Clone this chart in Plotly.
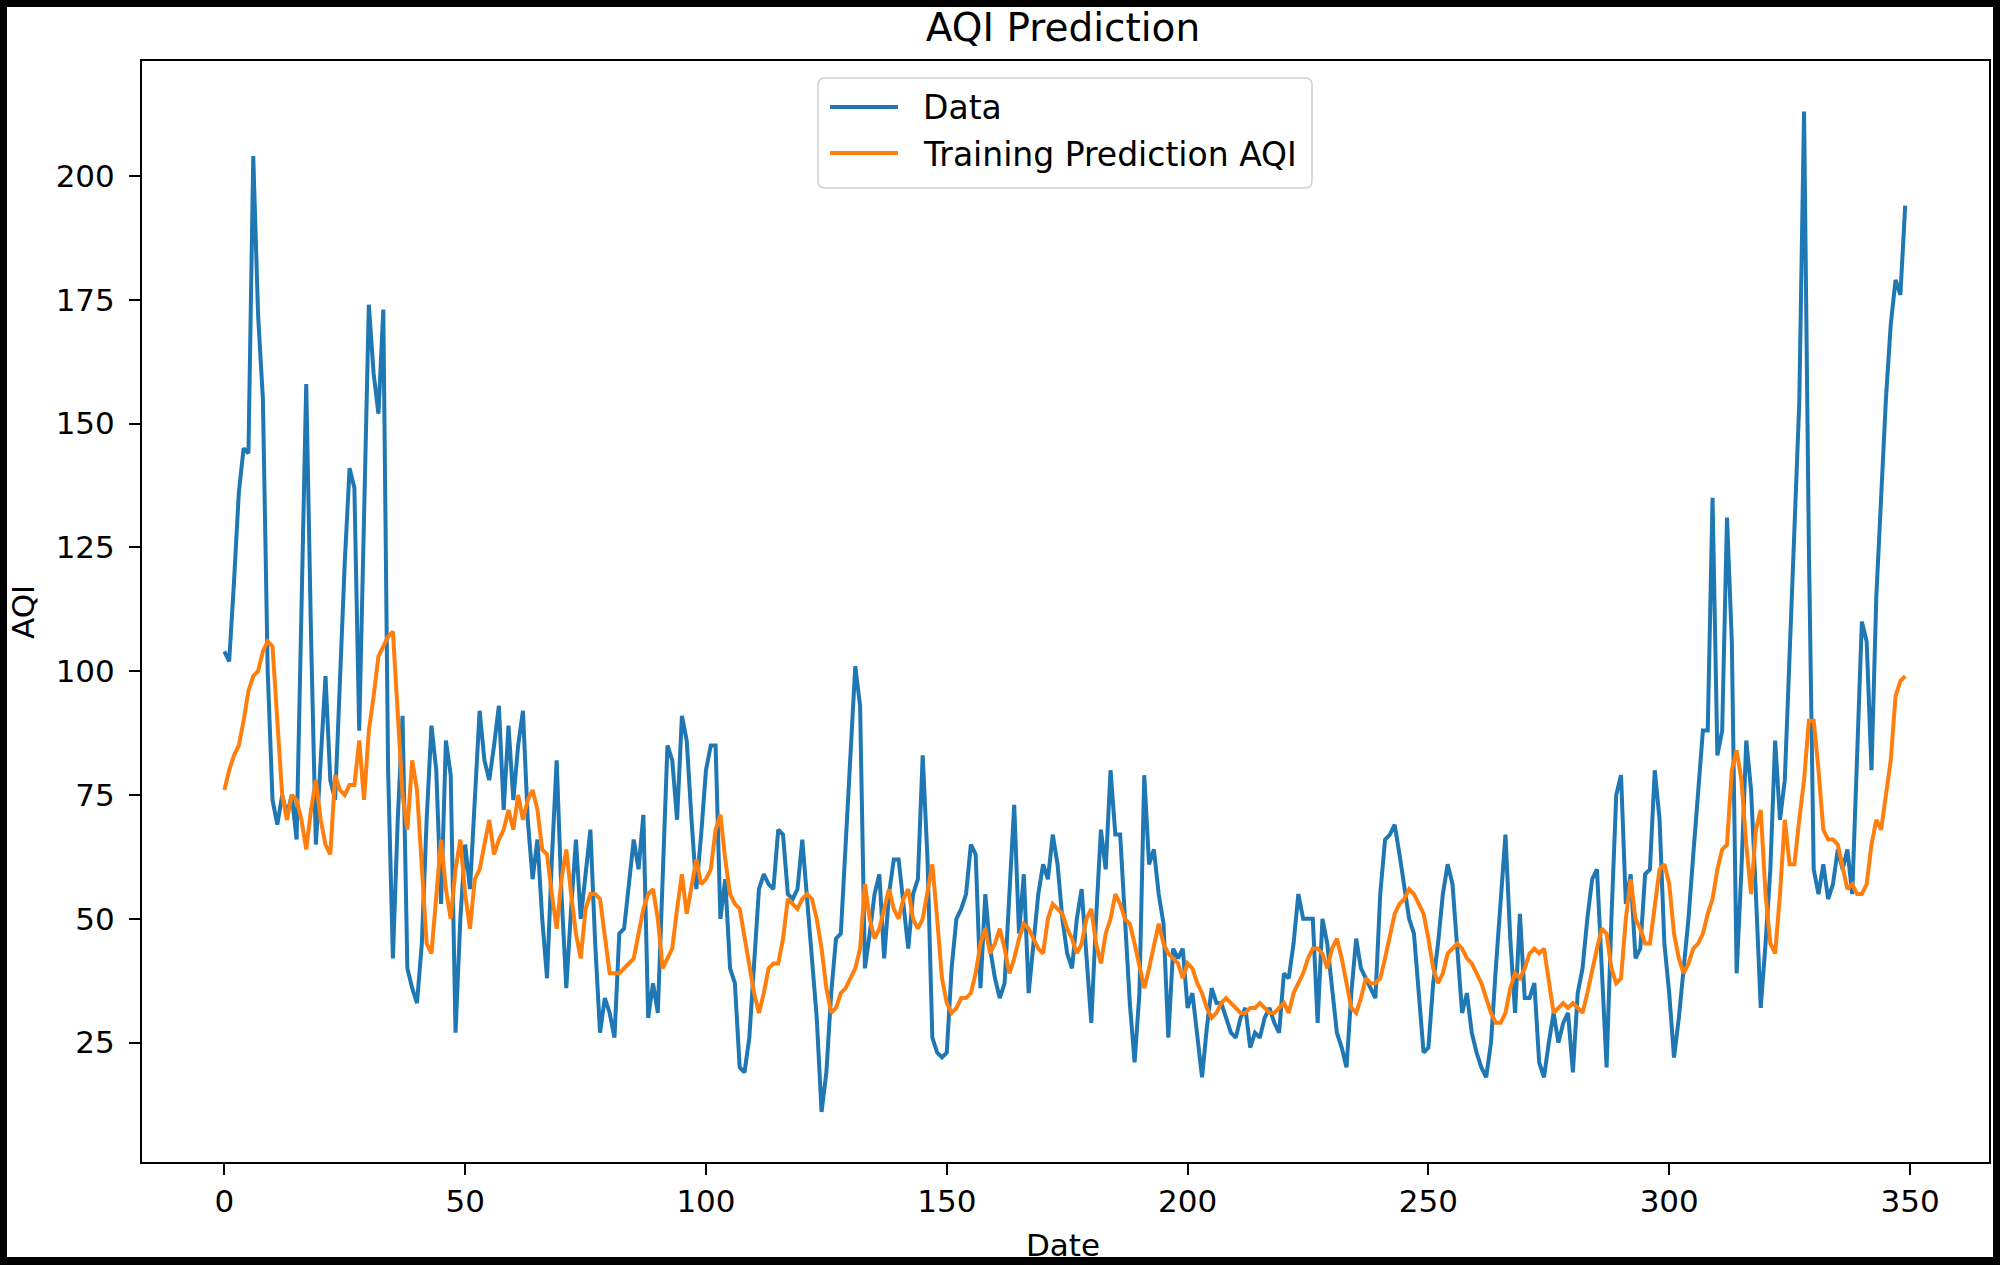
import plotly.graph_objects as go

# ---------------- data ----------------
dates = list(range(350))

data_aqi = [
    104, 102, 118, 136, 145, 144, 204, 172, 155, 100,
    74, 69, 75, 71, 75, 66, 112, 158, 107, 65,
    82, 99, 78, 74, 98, 122, 141, 137, 88, 131,
    174, 160, 152, 173, 80, 42, 70, 91, 40, 36,
    33, 45, 70, 89, 80, 53, 86, 79, 27, 50,
    65, 56, 75, 92, 82, 78, 85, 93, 72, 89,
    74, 85, 92, 70, 58, 66, 50, 38, 62, 82,
    55, 36, 52, 66, 50, 60, 68, 45, 27, 34,
    31, 26, 47, 48, 58, 66, 60, 71, 30, 37,
    31, 60, 85, 82, 70, 91, 86, 70, 56, 67,
    80, 85, 85, 50, 58, 40, 37, 20, 19, 26,
    40, 56, 59, 57, 56, 68, 67, 55, 54, 56,
    66, 54, 42, 30, 11, 19, 35, 46, 47, 66,
    82, 101, 93, 40, 47, 55, 59, 42, 55, 62,
    62, 53, 44, 55, 58, 83, 62, 26, 23, 22,
    23, 40, 50, 52, 55, 65, 63, 36, 55, 44,
    38, 34, 37, 55, 73, 47, 59, 35, 45, 55,
    61, 58, 67, 61, 50, 43, 40, 50, 56, 42,
    29, 50, 68, 60, 80, 67, 67, 50, 33, 21,
    35, 79, 61, 64, 55, 49, 26, 44, 42, 44,
    32, 35, 26, 18, 28, 36, 33, 33, 30, 27,
    26, 30, 32, 24, 27, 26, 30, 32, 29, 27,
    39, 38, 45, 55, 50, 50, 50, 29, 50, 45,
    35, 27, 24, 20, 35, 46, 40, 38, 36, 34,
    55, 66, 67, 69, 63, 57, 50, 47, 35, 23,
    24, 37, 45, 55, 61, 57, 44, 31, 35, 27,
    23, 20, 18, 25, 40, 55, 67, 46, 31, 51,
    34, 34, 37, 21, 18, 25, 31, 25, 29, 31,
    19, 35, 40, 50, 58, 60, 40, 20, 50, 75,
    79, 53, 59, 42, 44, 59, 60, 80, 70, 45,
    35, 22, 30, 40, 50, 63, 75, 88, 88, 135,
    83, 88, 131, 106, 39, 60, 86, 76, 55, 32,
    45, 60, 86, 70, 78, 103, 128, 154, 213, 125,
    60, 55, 61, 54, 57, 64, 60, 64, 55, 85,
    110, 106, 80, 115, 135, 155, 170, 179, 176, 194,
]

pred_aqi = [
    76, 80, 83, 85, 90, 96, 99, 100, 104, 106,
    105, 90, 75, 70, 75, 74, 70, 64, 72, 78,
    70, 65, 63, 79, 76, 75, 77, 77, 86, 74,
    88, 95, 103, 105, 107, 108, 90, 75, 68, 82,
    76, 60, 45, 43, 55, 66, 56, 50, 60, 66,
    55, 48, 58, 60, 65, 70, 63, 66, 68, 72,
    68, 75, 70, 74, 76, 72, 64, 63, 55, 48,
    58, 64, 55, 47, 42, 52, 55, 55, 54, 47,
    39, 39, 39, 40, 41, 42, 47, 52, 55, 56,
    50, 40, 42, 44, 52, 59, 51, 56, 62, 57,
    58, 60, 68, 71, 62, 55, 53, 52, 46, 41,
    35, 31, 35, 40, 41, 41, 46, 54, 53, 52,
    54, 55, 54, 50, 44, 36, 31, 32, 35, 36,
    38, 40, 44, 57, 50, 46, 48, 52, 56, 52,
    50, 54, 56, 50, 48, 50, 56, 61, 50, 38,
    33, 31, 32, 34, 34, 35, 39, 45, 48, 43,
    45, 48, 44, 39, 42, 46, 49, 48, 46, 44,
    43, 50, 53, 52, 51, 48, 46, 43, 45, 50,
    52, 45, 41, 47, 50, 55, 53, 50, 49, 45,
    40, 36, 40, 45, 49, 45, 43, 42, 41, 38,
    41, 40, 37, 35, 32, 30, 31, 33, 34, 33,
    32, 31, 31, 32, 32, 33, 32, 31, 31, 32,
    33, 31, 35, 37, 39, 42, 44, 44, 43, 40,
    44, 46, 42, 37, 32, 31, 34, 38, 37, 37,
    38, 42, 47, 51, 53, 54, 56, 55, 53, 51,
    46, 40, 37, 39, 43, 44, 45, 44, 42, 41,
    39, 37, 34, 31, 29, 29, 31, 36, 39, 38,
    40, 43, 44, 43, 44, 37, 31, 32, 33, 32,
    33, 32, 31, 35, 40, 44, 48, 47, 40, 37,
    38, 50, 58, 50, 48, 45, 45, 53, 60, 61,
    57, 47, 42, 39, 41, 44, 45, 47, 51, 54,
    60, 64, 65, 80, 84, 78, 65, 55, 68, 72,
    55, 45, 43, 55, 70, 61, 61, 70, 78, 90,
    90, 80, 68, 66, 66, 65, 60, 56, 57, 55,
    55, 57, 65, 70, 68, 75, 82, 95, 98, 99,
]

series_names = ["Data", "Training Prediction AQI"]
series_colors = ["#1f77b4", "#ff7f0e"]

x_ticks = [0, 50, 100, 150, 200, 250, 300, 350]
y_ticks = [25, 50, 75, 100, 125, 150, 175, 200]

# ---------------- layout geometry ----------------
W, H = 2000, 1265
L, R, T, B = 142, 1989, 61, 1162   # plot area in pixels
FONT = "DejaVu Sans"


def px_x(p):
    return (p - L) / (R - L)


def px_y(p):
    return (B - p) / (B - T)


def rounded_rect_path(x0, y0, x1, y1, r):
    """Rounded rectangle path in paper coordinates from pixel corners."""
    pts = [
        ("M", [(x0 + r, y0)]),
        ("L", [(x1 - r, y0)]),
        ("Q", [(x1, y0), (x1, y0 + r)]),
        ("L", [(x1, y1 - r)]),
        ("Q", [(x1, y1), (x1 - r, y1)]),
        ("L", [(x0 + r, y1)]),
        ("Q", [(x0, y1), (x0, y1 - r)]),
        ("L", [(x0, y0 + r)]),
        ("Q", [(x0, y0), (x0 + r, y0)]),
    ]
    out = []
    for cmd, ps in pts:
        out.append(cmd + " ".join(f"{px_x(a):.5f},{px_y(b):.5f}" for a, b in ps))
    return " ".join(out) + " Z"


fig = go.Figure()
fig.add_trace(go.Scatter(x=dates, y=data_aqi, mode="lines", name=series_names[0],
                         line=dict(color=series_colors[0], width=4), showlegend=False))
fig.add_trace(go.Scatter(x=dates, y=pred_aqi, mode="lines", name=series_names[1],
                         line=dict(color=series_colors[1], width=4), showlegend=False))

axis_common = dict(
    showgrid=False, zeroline=False, showline=True, linecolor="black",
    linewidth=2, mirror=True, ticks="outside", ticklen=11, tickwidth=2,
    tickcolor="black", tickfont=dict(family=FONT, size=31, color="black"),
)

# legend box drawn like matplotlib's (rounded frame, long line samples)
LEG_X0, LEG_X1, LEG_Y0, LEG_Y1 = 818, 1312, 78, 188
leg_rows = [107, 153]
shapes = [
    dict(type="rect", xref="paper", yref="paper", layer="below",
         x0=px_x(7), x1=px_x(1993), y0=px_y(1257), y1=px_y(7),
         fillcolor="white", line=dict(width=0)),
    dict(type="path", xref="paper", yref="paper", layer="above",
         path=rounded_rect_path(LEG_X0, LEG_Y0, LEG_X1, LEG_Y1, 7),
         fillcolor="rgba(255,255,255,0.85)", line=dict(color="#d0d0d0", width=1.5)),
]
annotations = [
    dict(text="AQI", x=px_x(23), y=px_y(612), xref="paper", yref="paper",
         textangle=-90, showarrow=False, xanchor="center", yanchor="middle",
         font=dict(family=FONT, size=31, color="black")),
    dict(text="Date", x=px_x(1063), y=px_y(1245), xref="paper", yref="paper",
         showarrow=False, xanchor="center", yanchor="middle",
         font=dict(family=FONT, size=31, color="black")),
]
for name, color, yrow in zip(series_names, series_colors, leg_rows):
    shapes.append(dict(type="line", xref="paper", yref="paper", layer="above",
                       x0=px_x(830), x1=px_x(898), y0=px_y(yrow), y1=px_y(yrow),
                       line=dict(color=color, width=4)))
    annotations.append(dict(text=name, x=px_x(921), y=px_y(yrow + 1),
                            xref="paper", yref="paper", showarrow=False,
                            xanchor="left", yanchor="middle",
                            font=dict(family=FONT, size=33, color="black")))

fig.update_layout(
    width=W, height=H,
    margin=dict(l=L, r=W - R, t=T, b=H - B, autoexpand=False),
    paper_bgcolor="black", plot_bgcolor="white",
    font=dict(family=FONT, color="black"),
    title=dict(text="AQI Prediction", x=1063 / W, xref="container",
               xanchor="center", y=1 - 27 / H, yref="container",
               yanchor="middle", font=dict(family=FONT, size=39, color="black")),
    xaxis=dict(range=[-17.1, 366.4], tickvals=x_ticks, **axis_common),
    yaxis=dict(range=[0.9, 223.2], tickvals=y_ticks, ticklabelstandoff=8,
               **axis_common),
    showlegend=False,
    shapes=shapes,
    annotations=annotations,
)

fig.write_html(
    "out.html",
    config={"displayModeBar": False},
    post_script="document.body.style.margin='0';document.body.style.overflow='hidden';",
)
